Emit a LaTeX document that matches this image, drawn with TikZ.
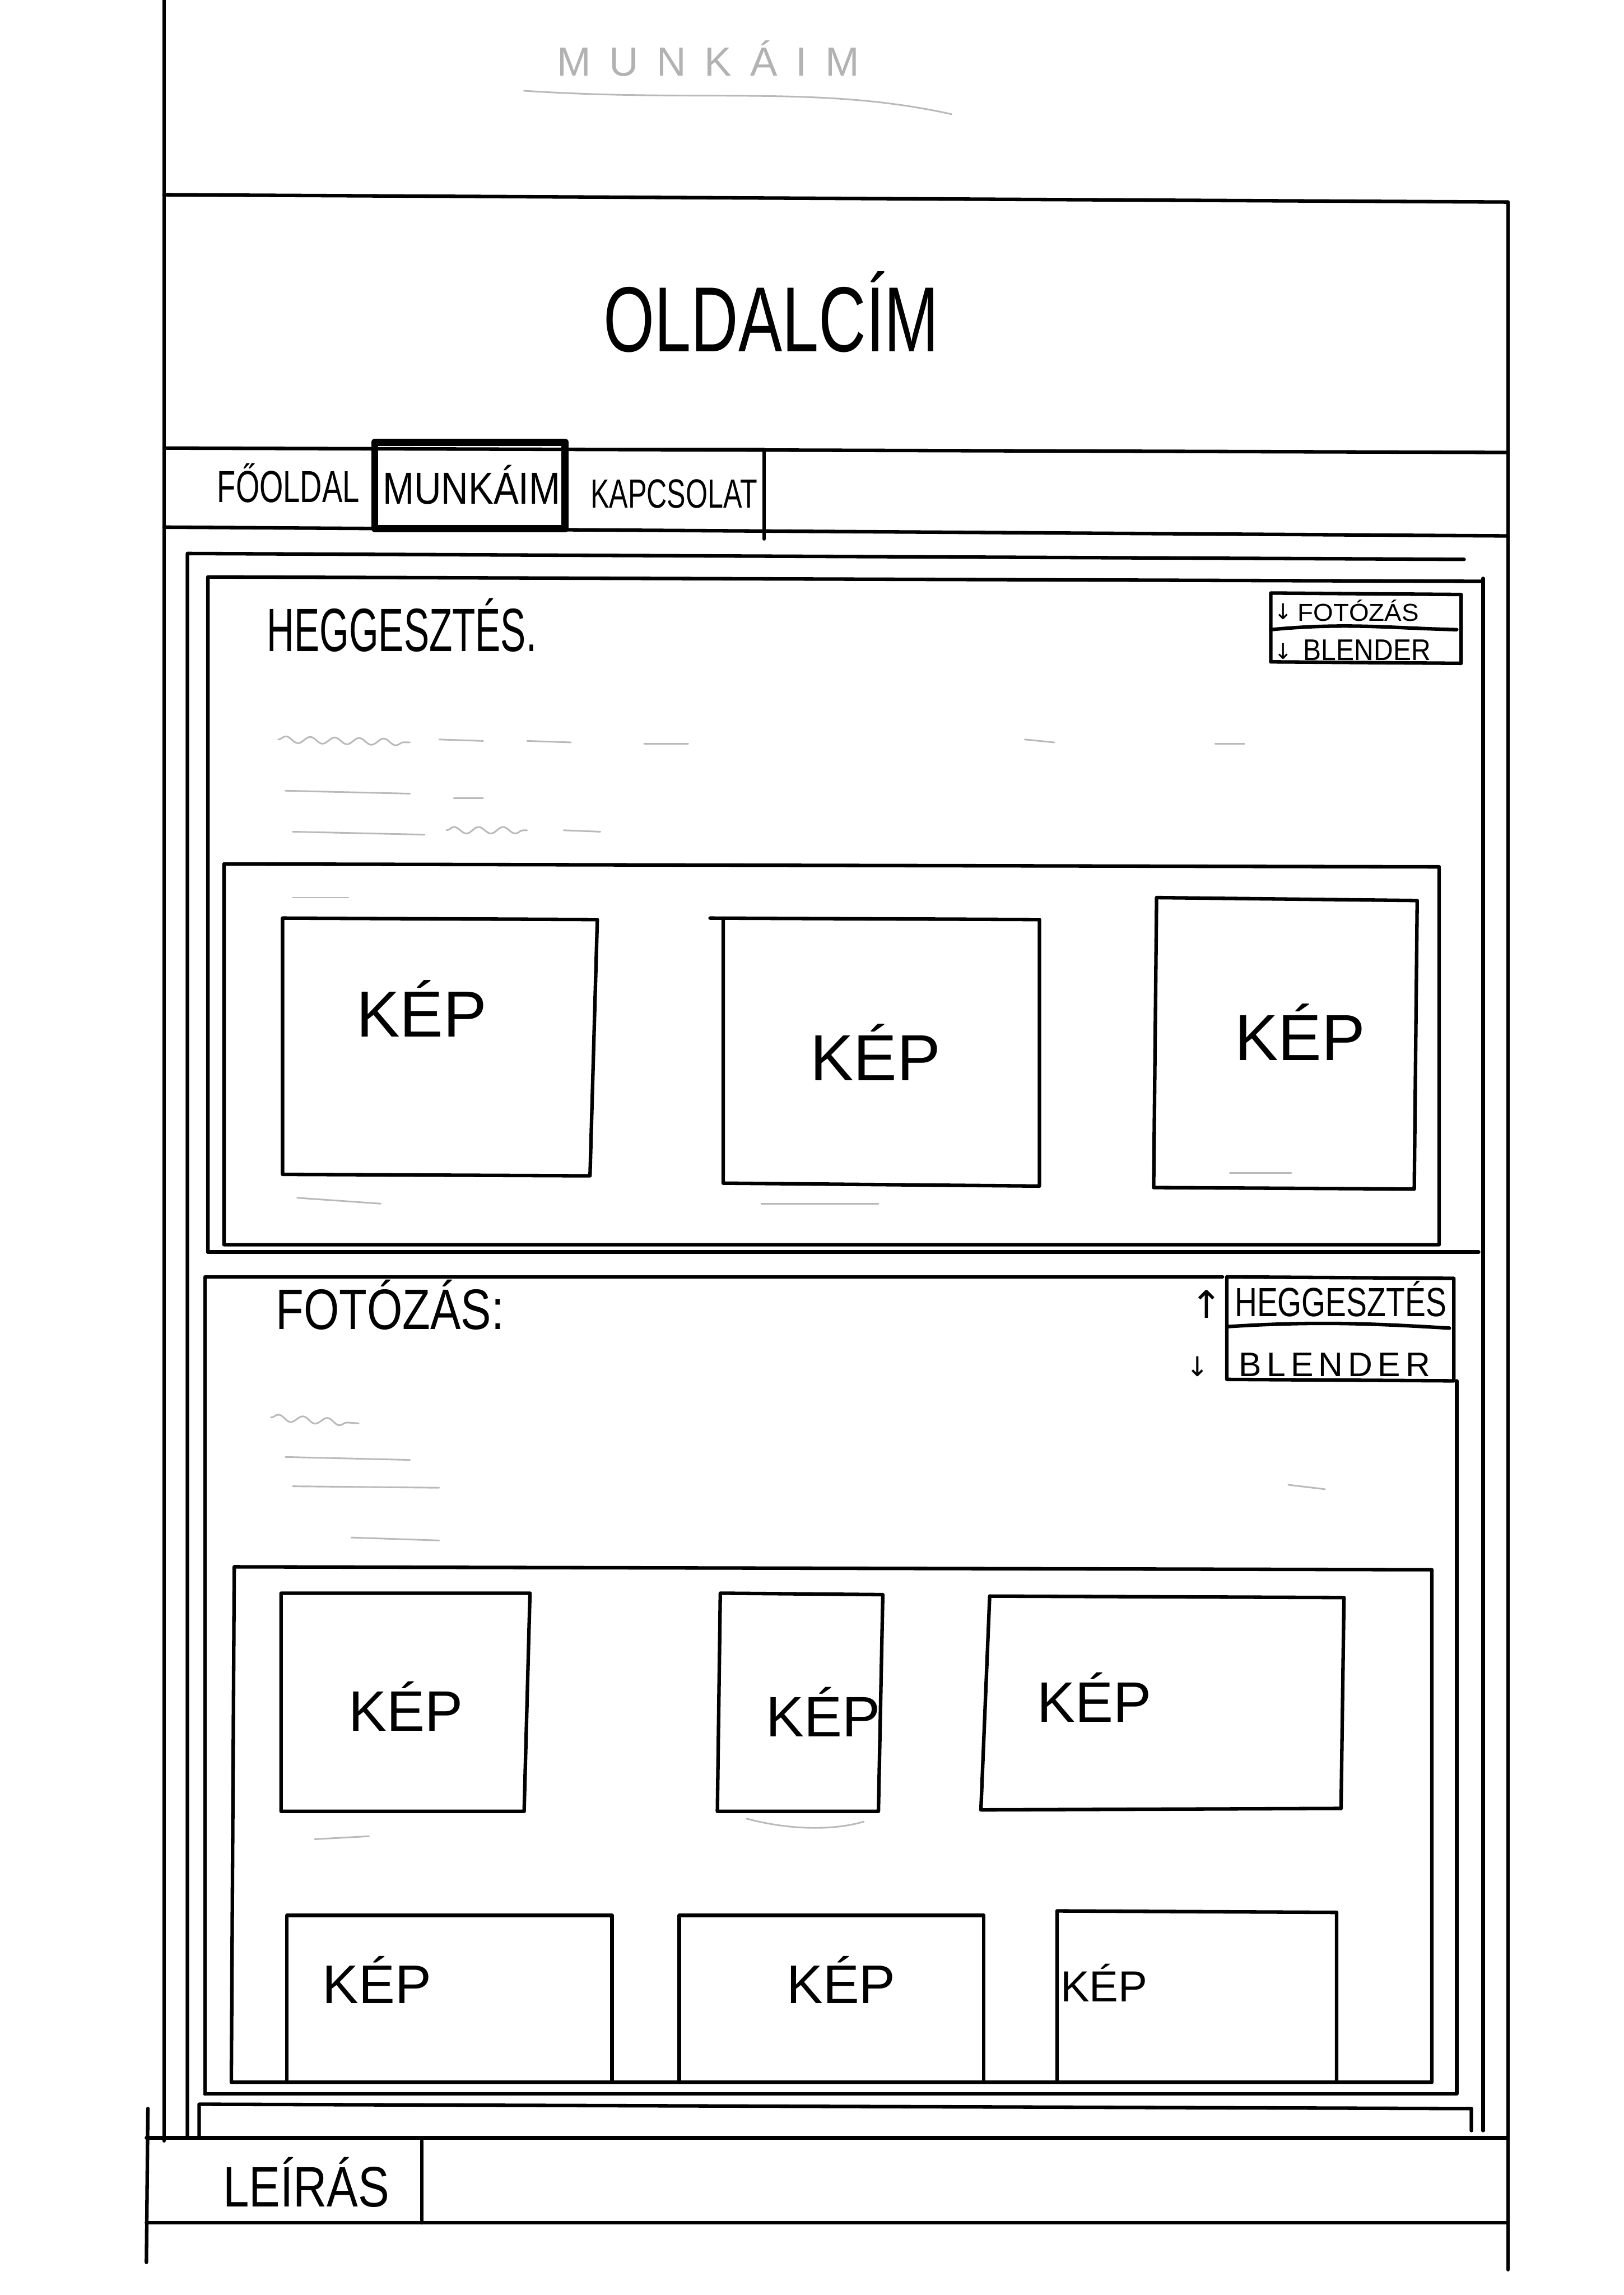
\documentclass[tikz,border=0pt]{standalone}
\usepackage{fontspec}
\usepackage{graphicx}
\usetikzlibrary{decorations.pathmorphing}
\newfontfamily\hand{Liberation Sans}
\newfontfamily\symf{DejaVu Sans}
\newcommand{\fs}[1]{\fontsize{#1}{#1}\selectfont}
\tikzset{
  ln/.style={line width=1.3pt, black, line cap=round, line join=round},
  boldbox/.style={line width=2.6pt, black, line join=round},
  lbl/.style={inner sep=0pt, anchor=base west, text=black},
  faint/.style={gray!55, line width=0.6pt, line cap=round},
  squig/.style={faint, decorate, decoration={snake, amplitude=1.2pt, segment length=9pt}}
}
\begin{document}
\begin{tikzpicture}[x=0.18936mm, y=-0.18936mm]
\useasboundingbox (0,0) rectangle (1109,1567.3);
\fill[white] (0,0) rectangle (1109,1567.3);

% faint top title
\node[lbl, text=gray!60, font=\hand\fs{15}] (faintT) at (380,52) {\addfontfeature{LetterSpace=45}MUNKÁIM};
\draw[faint] (358,62) .. controls (480,70) and (560,58) .. (650,78);

% page frame
\draw[ln] (112,0) -- (112,1462);
\draw[ln] (101,1440) -- (100,1545);
\draw[ln] (112,133) -- (1030,138);
\draw[ln] (1030,138) -- (1030,1550);
\draw[ln] (112,306) -- (1030,309);

% header title
\node[lbl, font=\hand\fs{34}] (title) at (412,240) {\scalebox{0.71}[1]{OLDALCÍM}};

% nav bar
\draw[ln] (112,360) -- (1030,366);
\draw[boldbox] (256,302) rectangle (386,361);
\draw[ln] (386,307) -- (522,307) -- (522,368);
\node[lbl, font=\hand\fs{16.5}] (nav1) at (148,343) {\scalebox{0.68}[1]{FŐOLDAL}};
\node[lbl, font=\hand\fs{16.5}] (nav2) at (261,344) {\scalebox{0.84}[1]{MUNKÁIM}};
\node[lbl, font=\hand\fs{15}] (nav3) at (403,347) {\scalebox{0.69}[1]{KAPCSOLAT}};

% content outer box
\draw[ln] (128,1460) -- (128,378) -- (1000,382);
\draw[ln] (1013,395) -- (1013,1455);

% ---------- section 1 ----------
\draw[ln] (142,855) -- (142,394) -- (1013,397);
\draw[ln] (142,855) -- (1010,855);
\node[lbl, font=\hand\fs{22.5}] (h1) at (182,445) {\scalebox{0.62}[1]{HEGGESZTÉS.}};
% side nav 1
\draw[ln] (868,405) -- (998,406) -- (998,453) -- (868,452) -- cycle;
\draw[ln] (868,430) .. controls (920,425) and (950,429) .. (995,430);
\node[lbl, font=\symf\fs{8}] (s1a) at (870,423) {↓};
\node[lbl, font=\symf\fs{8}] (s1b) at (870,450) {↓};
\node[lbl, font=\hand\fs{9}] (s1t1) at (886,424) {\scalebox{1.05}[1]{FOTÓZÁS}};
\node[lbl, font=\hand\fs{11}] (s1t2) at (890,451) {\scalebox{0.9}[1]{BLENDER}};
% placeholder text lines
\draw[squig] (190,505) -- (280,507);
\draw[faint] (300,505) -- (330,506);
\draw[faint] (360,506) -- (390,507);
\draw[faint] (440,508) -- (470,508);
\draw[faint] (700,505) -- (720,507);
\draw[faint] (830,508) -- (850,508);
\draw[faint] (195,540) -- (280,542);
\draw[faint] (310,545) -- (330,545);
\draw[faint] (200,568) -- (290,570);
\draw[squig] (305,567) -- (360,567);
\draw[faint] (385,567) -- (410,568);
% image container 1
\draw[ln] (153,850) -- (153,590) -- (983,592) -- (983,850) -- cycle;
\draw[ln] (193,627) -- (408,628) -- (403,803) -- (193,802) -- cycle;
\draw[ln] (485,627) -- (710,628) -- (710,810) -- (494,808) -- (494,627);
\draw[ln] (790,613) -- (968,615) -- (966,812) -- (788,811) -- cycle;
\node[lbl, font=\hand\fs{24}] (k1) at (243,708) {KÉP};
\node[lbl, font=\hand\fs{24}] (k2) at (553,738) {KÉP};
\node[lbl, font=\hand\fs{24}] (k3) at (843,724) {KÉP};
\draw[faint] (200,613) -- (238,613);
\draw[faint] (203,818) -- (260,822);
\draw[faint] (520,822) -- (600,822);
\draw[faint] (840,801) -- (882,801);

% ---------- section 2 ----------
\draw[ln] (140,1430) -- (140,872) -- (835,872);
\draw[ln] (995,943) -- (995,1430) -- (140,1430);
\node[lbl, font=\hand\fs{21}] (h2) at (188,908) {\scalebox{0.8}[1]{FOTÓZÁS:}};
% side nav 2
\draw[ln] (838,872) -- (993,873) -- (993,943) -- (838,942) -- cycle;
\draw[ln] (838,906) .. controls (900,902) and (940,904) .. (990,907);
\node[lbl, font=\symf\fs{14}] (s2a) at (813,900) {↑};
\node[lbl, font=\symf\fs{10}] (s2b) at (810,940) {↓};
\node[lbl, font=\hand\fs{15}] (s2t1) at (843,899) {\scalebox{0.76}[1]{HEGGESZTÉS}};
\node[lbl, font=\hand\fs{12.5}] (s2t2) at (846,940) {\addfontfeature{LetterSpace=15}BLENDER};
% placeholder text lines
\draw[squig] (185,968) -- (245,972);
\draw[faint] (195,995) -- (280,997);
\draw[faint] (200,1015) -- (300,1016);
\draw[faint] (880,1014) -- (905,1017);
\draw[faint] (240,1050) -- (300,1052);
% image container 2
\draw[ln] (158,1422) -- (160,1070) -- (978,1072) -- (978,1422) -- cycle;
\draw[ln] (192,1088) -- (362,1088) -- (358,1237) -- (192,1237) -- cycle;
\draw[ln] (492,1088) -- (603,1089) -- (600,1237) -- (490,1237) -- cycle;
\draw[ln] (676,1090) -- (918,1091) -- (916,1235) -- (670,1236) -- cycle;
\node[lbl, font=\hand\fs{21}] (k4) at (238,1182) {KÉP};
\node[lbl, font=\hand\fs{21}] (k5) at (523,1186) {KÉP};
\node[lbl, font=\hand\fs{21}] (k6) at (708,1176) {KÉP};
\draw[faint] (215,1256) -- (252,1254);
\draw[faint] (510,1242) .. controls (540,1250) and (570,1250) .. (590,1244);
\draw[ln] (196,1422) -- (196,1308) -- (418,1308) -- (418,1422);
\draw[ln] (464,1422) -- (464,1308) -- (672,1308) -- (672,1422);
\draw[ln] (722,1422) -- (722,1305) -- (913,1306) -- (913,1422);
\node[lbl, font=\hand\fs{20}] (k7) at (220,1368) {KÉP};
\node[lbl, font=\hand\fs{20}] (k8) at (537,1368) {KÉP};
\node[lbl, font=\hand\fs{16}] (k9) at (724,1367) {KÉP};

% bottom bar
\draw[ln] (136,1460) -- (136,1437) -- (1005,1440) -- (1005,1455);

% footer
\draw[ln] (100,1460) -- (1030,1460);
\draw[ln] (100,1518) -- (1030,1518);
\draw[ln] (288,1462) -- (288,1518);
\node[lbl, font=\hand\fs{21}] (leiras) at (152,1507) {\scalebox{0.82}[1]{LEÍRÁS}};
\end{tikzpicture}
\end{document}
